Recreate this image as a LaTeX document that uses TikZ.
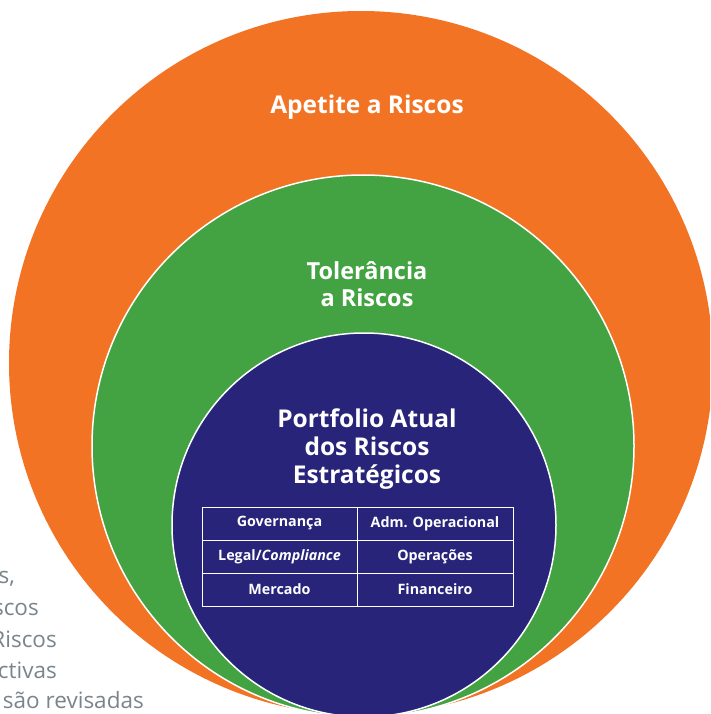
\documentclass[tikz,border=0pt]{standalone}
\usepackage{fontspec}
\setmainfont{Open Sans}
\definecolor{apetiteC}{HTML}{F37324}
\definecolor{toleranciaC}{HTML}{43A342}
\definecolor{portfolioC}{HTML}{27247A}
\definecolor{textGray}{HTML}{7A848B}
\tikzset{
  ring/.style={circle, inner sep=0pt, draw=white, line width=1.5pt},
  title/.style={text=white, font=\bfseries\fontsize{24.5}{29}\selectfont, align=center, inner sep=0pt},
  cell/.style={draw=white, line width=0.9pt, minimum height=33pt, inner sep=0pt,
    text=white, font=\bfseries\fontsize{14.3}{17}\selectfont},
  side/.style={anchor=base east, text=textGray, font=\fontsize{22.5}{27}\selectfont, inner sep=0pt}
}
\begin{document}
\begin{tikzpicture}[x=1pt,y=-1pt]
\useasboundingbox (0,0) rectangle (710,714);
\clip (0,0) rectangle (710,714);
% nested circles, all touching near the bottom edge
\node[ring, fill=apetiteC, draw=none, minimum size=704pt] (apetite) at (361,363) {};
\node[ring, fill=toleranciaC, minimum size=542pt] (tolerancia) at (363,446) {};
\node[ring, fill=portfolioC, minimum size=384pt] (portfolio) at (364,525) {};
% titles
\node[title] (tApetite) at (367,107) {Apetite a Riscos};
\node[title, font=\bfseries\fontsize{23.5}{27}\selectfont] (tTolerancia) at (367,284) {Tolerância\\a Riscos};
\node[title, font=\bfseries\fontsize{24.5}{28}\selectfont] (tPortfolio) at (367,449) {Portfolio Atual\\dos Riscos\\Estratégicos};
% risk categories table
\node[cell, minimum width=155pt] (c11) at (279.5,523.5) {Governança};
\node[cell, minimum width=156pt] (c12) at (435,523.5) {Adm. Operacional};
\node[cell, minimum width=155pt] (c21) at (279.5,556.5) {Legal/\textit{Compliance}};
\node[cell, minimum width=156pt] (c22) at (435,556.5) {Operações};
\node[cell, minimum width=155pt] (c31) at (279.5,589.5) {Mercado};
\node[cell, minimum width=156pt] (c32) at (435,589.5) {Financeiro};
% text column at the left edge
\node[side] (s1) at (15,583) {s,};
\node[side] (s2) at (39,615) {scos};
\node[side] (s3) at (57,647) {Riscos};
\node[side] (s4) at (57,678) {ctivas};
\node[side] (s5) at (144,708) {são revisadas};
\end{tikzpicture}
\end{document}
